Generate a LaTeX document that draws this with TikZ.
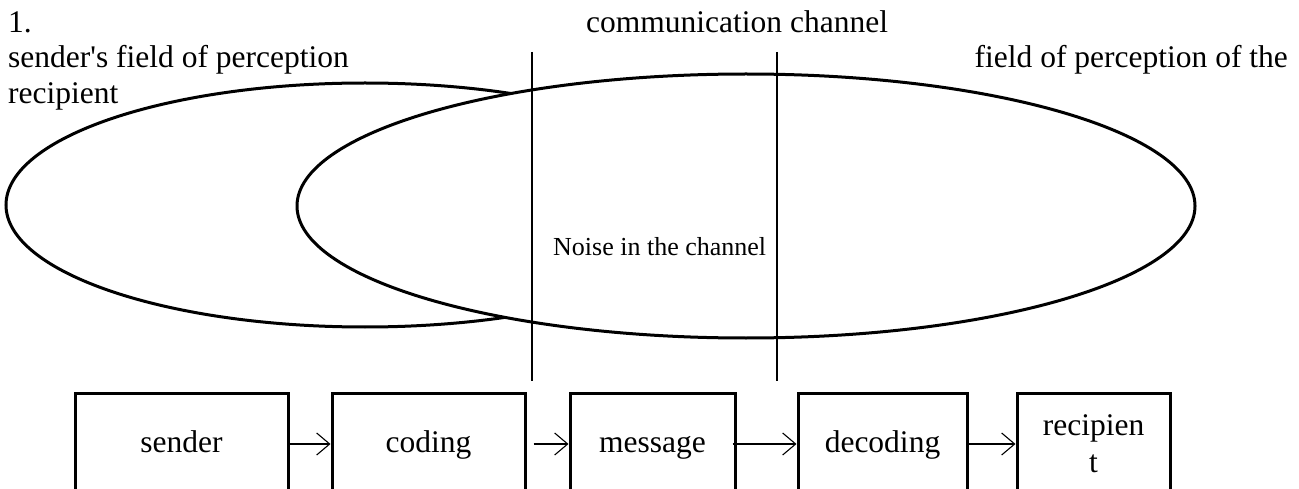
\documentclass[tikz,border=0pt]{standalone}
\usepackage{fontspec}
\setmainfont{Liberation Serif}[Ligatures=TeXOff]
\usetikzlibrary{arrows.meta}
\begin{document}
\begin{tikzpicture}[x=1pt,y=-1pt,
  field/.style={line width=3pt},
  channel/.style={line width=1.1pt},
  caption/.style={inner sep=0pt, font=\fontsize{31.5}{37}\selectfont},
  small/.style={inner sep=0pt, font=\fontsize{26}{31}\selectfont},
  stage/.style={draw, line width=3pt, inner sep=0pt, minimum height=102pt,
    align=center, font=\fontsize{31.5}{37}\selectfont},
  oneline/.style={text height=24pt, text depth=8pt},
  flow/.style={line width=1.1pt,
    -{Straight Barb[length=13pt,width=22pt,line width=1.1pt]}}]
\clip (0,0) rectangle (1299,489);

% fields of perception
\draw[field] (365,205) ellipse [x radius=359pt, y radius=122pt];
\draw[field, fill=white] (746,206) ellipse [x radius=449pt, y radius=132pt];

% borders of the communication channel
\coordinate (c1top) at (532,52);
\coordinate (c1bot) at (532,381);
\coordinate (c2top) at (777,52);
\coordinate (c2bot) at (777,381);
\draw[channel] (c1top) -- (c1bot);
\draw[channel] (c2top) -- (c2bot);

% captions
\node[caption, anchor=base west] (num) at (8,33) {1.};
\node[caption, anchor=base west] (chan) at (586,33) {communication channel};
\node[caption, anchor=base west] (sfield) at (8,68) {sender's field of perception};
\node[caption, anchor=base east] (rfield) at (1288,68) {field of perception of the};
\node[caption, anchor=base west] (rcont) at (8,104) {recipient};
\node[small, anchor=base west] (noise) at (553,255) {Noise in the channel};

% stages of communication
\node[stage, oneline, minimum width=213pt] (sender) at (181.5,444) {sender};
\node[stage, oneline, minimum width=193pt] (coding) at (428.5,444) {coding};
\node[stage, oneline, minimum width=165pt] (message) at (652.5,444) {message};
\node[stage, oneline, minimum width=169pt] (decoding) at (882.5,444) {decoding};
\node[stage, minimum width=153pt] (recipient) at (1093.5,444) {recipien\\t};

\draw[flow] (sender.east) -- (coding.west);
\draw[flow] ([xshift=7pt]coding.east) -- (message.west);
\draw[flow] ([xshift=-4pt]message.east) -- (decoding.west);
\draw[flow] (decoding.east) -- (recipient.west);
\end{tikzpicture}
\end{document}
